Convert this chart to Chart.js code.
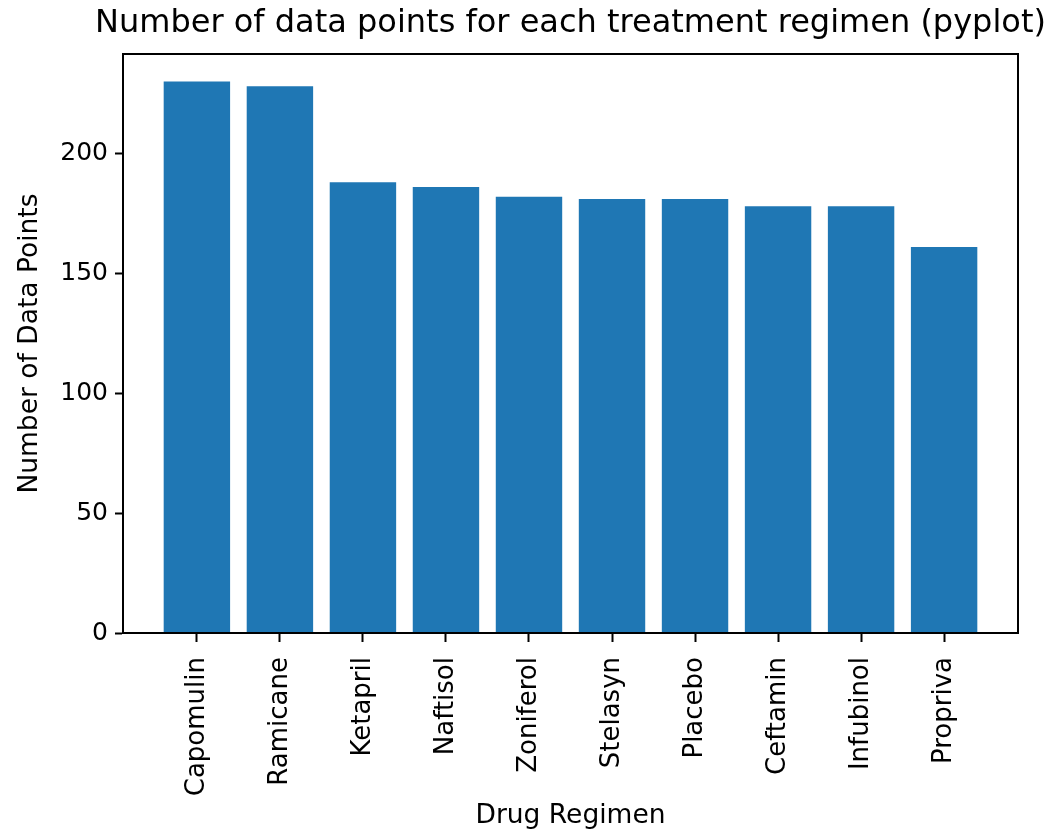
<!DOCTYPE html>
<html>
<head>
<meta charset="utf-8">
<script src="https://cdn.jsdelivr.net/npm/chart.js@4/dist/chart.umd.min.js"></script>
<style>
  html, body { margin: 0; padding: 0; background: #ffffff; }
  #wrap { width: 1055px; height: 835px; position: relative; }
</style>
</head>
<body>
<div id="wrap"><canvas id="c" width="1055" height="835"></canvas></div>
<script>
const categories = ["Capomulin", "Ramicane", "Ketapril", "Naftisol", "Zoniferol", "Stelasyn", "Placebo", "Ceftamin", "Infubinol", "Propriva"];
const dataPoints = [230, 228, 188, 186, 182, 181, 181, 178, 178, 161];
const yTicks = [0, 50, 100, 150, 200];
const chartTitle = "Number of data points for each treatment regimen (pyplot)";
const xTitle = "Drug Regimen";
const yTitle = "Number of Data Points";

const FONT = "'DejaVu Sans', sans-serif";
const TEXT = "#000000";

const frame = {
  id: 'frame',
  afterLayout(chart) {
    // let the title (centred over the plot area) run wider than the plot area
    const tb = chart.titleBlock;
    if (tb) { tb.left -= 120; tb.right += 120; }
  },
  afterDatasetsDraw(chart) {
    const a = chart.chartArea;
    const ctx = chart.ctx;
    ctx.save();
    ctx.strokeStyle = '#000000';
    ctx.lineWidth = 2;
    ctx.strokeRect(a.left, a.top, a.right - a.left, a.bottom - a.top);
    ctx.restore();
  }
};

new Chart(document.getElementById('c'), {
  type: 'bar',
  data: {
    datasets: [{
      data: dataPoints.map((v, i) => ({ x: i, y: v })),
      backgroundColor: '#1f77b4',
      borderWidth: 0,
      categoryPercentage: 1.0,
      barPercentage: 0.8
    }]
  },
  plugins: [frame],
  options: {
    responsive: false,
    animation: false,
    devicePixelRatio: 1,
    layout: { padding: { left: 0, right: 37, top: 0, bottom: 0 } },
    plugins: {
      legend: { display: false },
      tooltip: { enabled: false },
      title: {
        display: true,
        text: chartTitle,
        fullSize: false,
        color: TEXT,
        font: { family: FONT, size: 32, weight: 'normal', lineHeight: 1.2 },
        padding: { top: 4, bottom: 11.6 }
      }
    },
    scales: {
      x: {
        type: 'linear',
        min: -0.89,
        max: 9.89,
        offset: false,
        afterBuildTicks(scale) { scale.ticks = categories.map((_, i) => ({ value: i })); },
        afterFit(scale) { scale.height = 202; },
        grid: { display: true, drawOnChartArea: false, drawTicks: true, tickLength: 9, tickWidth: 2, tickColor: '#000', offset: false },
        border: { display: true, color: '#000', width: 2 },
        ticks: {
          autoSkip: false,
          minRotation: 90,
          maxRotation: 90,
          padding: 15,
          color: TEXT,
          font: { family: FONT, size: 26 },
          callback: (v) => categories[v]
        },
        title: {
          display: true,
          text: xTitle,
          color: TEXT,
          font: { family: FONT, size: 26.5, lineHeight: 1.2 },
          padding: { top: 0, bottom: 3 }
        }
      },
      y: {
        min: 0,
        max: 241.5,
        afterBuildTicks(scale) { scale.ticks = yTicks.map(v => ({ value: v })); },
        afterFit(scale) { scale.width = 123; },
        grid: { display: true, drawOnChartArea: false, drawTicks: true, tickLength: 8, tickWidth: 2, tickColor: '#000' },
        border: { display: true, color: '#000', width: 2 },
        ticks: {
          padding: 7,
          color: TEXT,
          font: { family: FONT, size: 25 }
        },
        title: {
          display: true,
          text: yTitle,
          color: TEXT,
          font: { family: FONT, size: 26.5, lineHeight: 1.2 },
          padding: { top: 14, bottom: 0 }
        }
      }
    }
  }
});
</script>
</body>
</html>
